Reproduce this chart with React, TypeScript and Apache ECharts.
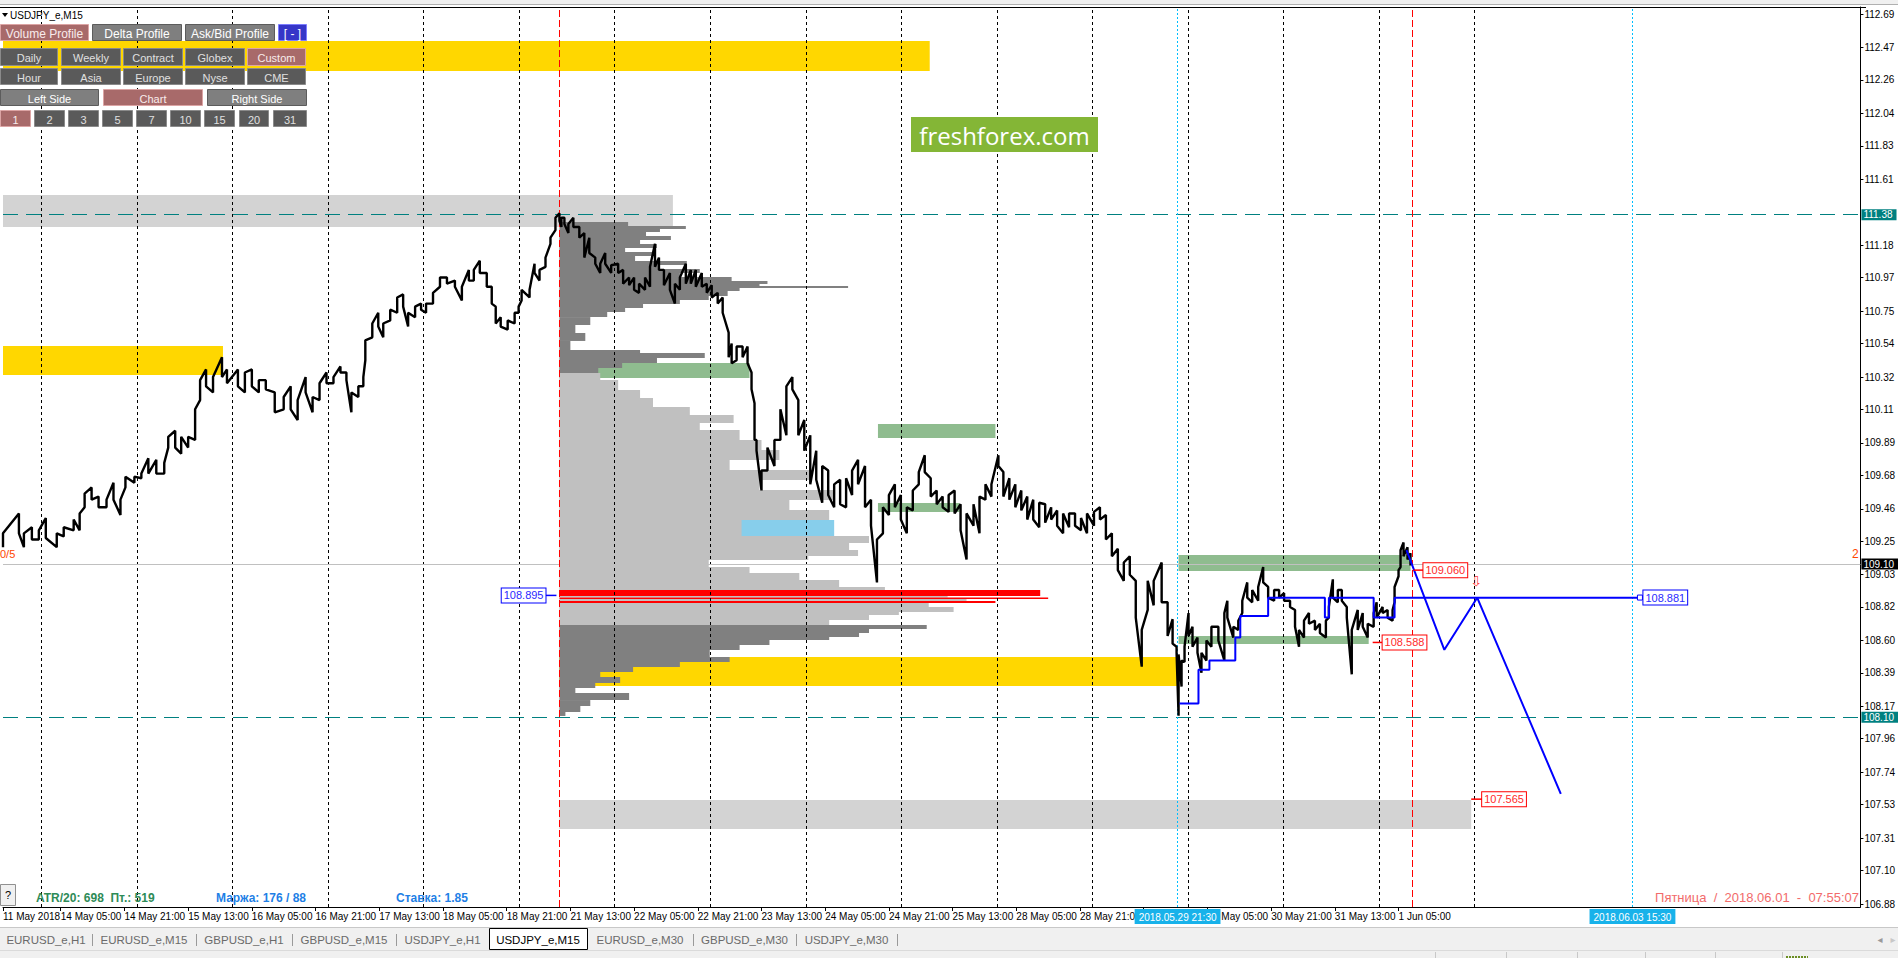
import React, { useEffect, useRef } from "react";
import * as echarts from "echarts";

const FONT = '"Liberation Sans", Arial, sans-serif';

// ---------------- price axis ----------------
const PRICE_MIN = 106.861;
const PRICE_MAX = 112.736;
const Y_TICKS = [112.69, 112.47, 112.26, 112.04, 111.83, 111.61, 111.18, 110.97, 110.75, 110.54, 110.32, 110.11, 109.89, 109.68, 109.46, 109.25, 109.03, 108.82, 108.6, 108.39, 108.17, 107.96, 107.74, 107.53, 107.31, 107.1, 106.88];

// ---------------- time axis (M15 bar index) ----------------
const BAR_MIN = 0;
const BAR_MAX = 1866;
const X_LABEL_POS = [0, 58, 122, 186, 250, 314, 378, 442, 506, 570, 634, 698, 762, 826, 890, 954, 1018, 1082, 1146, 1210, 1274, 1338, 1402];
const X_LABEL_TEXT = ["11 May 2018", "14 May 05:00", "14 May 21:00", "15 May 13:00", "16 May 05:00", "16 May 21:00", "17 May 13:00", "18 May 05:00", "18 May 21:00", "21 May 13:00", "22 May 05:00", "22 May 21:00", "23 May 13:00", "24 May 05:00", "24 May 21:00", "25 May 13:00", "28 May 05:00", "28 May 21:00", "29 May 13:00", "30 May 05:00", "30 May 21:00", "31 May 13:00", "1 Jun 05:00"];
const DAY_SEPARATORS = [38.5, 134.5, 230.5, 326.5, 422.5, 518.5, 614.5, 710.5, 806.5, 902.5, 998.5, 1094.5, 1190.5, 1286.5, 1382.5, 1478.5];
const RANGE_MARKERS = [559, 1416];
const TIME_MARKERS = [1180, 1637];
const TIME_MARKER_TEXT = ["2018.05.29 21:30", "2018.06.03 15:30"];

// ---------------- price bars (x, high, low) ----------------
const BAR_X = [
  0, 16, 21, 29, 36, 43, 54, 61, 71, 77, 82, 89, 96, 104, 111, 118, 123, 132, 139, 146, 154, 162, 166, 173, 179, 186, 193, 198, 204, 211, 220, 225, 236, 243, 250, 257, 264, 273, 282, 289, 296, 304, 311, 318, 325, 332, 339, 345, 350, 357, 362, 364, 371, 377, 382, 389, 396, 402, 407, 414, 420, 425, 432, 439, 446, 454, 461, 468, 473, 479, 486, 491, 495, 500, 507, 514, 518, 521, 529, 534, 539, 545, 550, 555, 559,
  561, 564, 568, 573, 579, 584, 589, 595, 600, 605, 611, 618, 623, 629, 634, 639, 645, 650, 655, 659, 664, 670, 675, 680, 686, 691, 696, 702, 707, 712, 718, 723, 729, 732, 737, 743, 748, 752, 755, 757,
  762, 768, 775, 781, 787, 793, 799, 805, 811, 817, 823, 829, 835, 841, 847, 853, 859, 866, 872, 878, 884, 890, 896, 902, 908, 914, 920, 926, 932, 938, 944, 950, 956, 962, 968, 975, 981, 987, 993, 1000, 1005, 1011, 1017, 1023, 1029, 1035, 1041, 1047, 1053, 1059, 1065, 1071, 1077, 1083, 1089, 1096, 1102, 1108, 1114, 1120, 1126, 1132, 1138, 1144, 1150,
  1156, 1164, 1170, 1175, 1179, 1181, 1184, 1187, 1191, 1195, 1200, 1204, 1209, 1214, 1221, 1227, 1230, 1236, 1241, 1245, 1250, 1255, 1261, 1266, 1271, 1277, 1282, 1287, 1293, 1298, 1302, 1307, 1312, 1318, 1323, 1329, 1332, 1336, 1341, 1345, 1350, 1355, 1361, 1366, 1371, 1377, 1380, 1386, 1391, 1396, 1398, 1402, 1404, 1407, 1411, 1414,
];
const BAR_HIGH = [
  109.30, 109.43, 109.30, 109.34, 109.32, 109.40, 109.30, 109.34, 109.39, 109.43, 109.56, 109.60, 109.54, 109.52, 109.63, 109.52, 109.67, 109.67, 109.69, 109.79, 109.78, 109.76, 109.93, 109.97, 109.93, 109.93, 110.11, 110.30, 110.37, 110.32, 110.45, 110.37, 110.37, 110.35, 110.37, 110.30, 110.30, 110.22, 110.19, 110.26, 110.17, 110.32, 110.19, 110.28, 110.35, 110.32, 110.39, 110.35, 110.22, 110.26, 110.32, 110.56, 110.67, 110.74, 110.67, 110.76, 110.84, 110.86, 110.74, 110.78, 110.80, 110.80, 110.87, 110.97, 110.97, 110.95, 110.91, 111.02, 111.02, 111.08, 111.00, 110.91, 110.78, 110.71, 110.69, 110.74, 110.78, 110.89, 110.89, 111.06, 111.02, 111.10, 111.23, 111.36, 111.39,
  111.36, 111.36, 111.32, 111.36, 111.30, 111.26, 111.23, 111.10, 111.06, 111.13, 111.05, 111.06, 111.02, 110.97, 110.97, 110.93, 110.97, 111.04, 111.19, 111.10, 111.02, 111.00, 110.93, 110.97, 111.06, 111.02, 111.02, 111.00, 110.93, 110.92, 110.87, 110.84, 110.61, 110.54, 110.52, 110.52, 110.52, 110.35, 110.15, 109.91,
  109.71, 109.86, 109.91, 110.11, 110.26, 110.32, 110.17, 110.04, 109.94, 109.84, 109.74, 109.71, 109.62, 109.65, 109.66, 109.71, 109.78, 109.74, 109.52, 109.26, 109.47, 109.55, 109.62, 109.55, 109.47, 109.58, 109.70, 109.81, 109.66, 109.58, 109.54, 109.55, 109.58, 109.49, 109.43, 109.49, 109.54, 109.62, 109.62, 109.81, 109.70, 109.66, 109.62, 109.58, 109.54, 109.52, 109.50, 109.49, 109.47, 109.45, 109.43, 109.43, 109.43, 109.40, 109.43, 109.44, 109.47, 109.42, 109.30, 109.20, 109.11, 109.15, 108.99, 108.67, 108.99,
  108.99, 109.11, 108.85, 108.74, 108.56, 108.51, 108.47, 108.56, 108.78, 108.69, 108.62, 108.52, 108.60, 108.69, 108.69, 108.78, 108.86, 108.69, 108.73, 108.86, 108.98, 108.93, 108.95, 109.08, 108.95, 108.93, 108.93, 108.91, 108.86, 108.80, 108.67, 108.73, 108.78, 108.73, 108.71, 108.73, 108.82, 109.00, 108.93, 108.93, 108.82, 108.67, 108.80, 108.78, 108.71, 108.78, 108.85, 108.82, 108.80, 108.80, 108.95, 109.06, 109.19, 109.24, 109.21, 109.17,
];
const BAR_LOW = [
  109.21, 109.30, 109.21, 109.26, 109.26, 109.27, 109.21, 109.28, 109.32, 109.32, 109.47, 109.52, 109.47, 109.47, 109.52, 109.42, 109.60, 109.63, 109.66, 109.69, 109.69, 109.69, 109.86, 109.86, 109.82, 109.86, 109.91, 110.17, 110.26, 110.22, 110.32, 110.28, 110.26, 110.22, 110.26, 110.22, 110.24, 110.09, 110.11, 110.11, 110.04, 110.22, 110.09, 110.17, 110.28, 110.28, 110.35, 110.30, 110.09, 110.19, 110.26, 110.43, 110.58, 110.65, 110.58, 110.69, 110.74, 110.78, 110.65, 110.71, 110.76, 110.74, 110.80, 110.91, 110.93, 110.91, 110.82, 110.95, 110.95, 111.00, 110.91, 110.80, 110.67, 110.65, 110.63, 110.67, 110.74, 110.82, 110.84, 111.00, 110.95, 111.04, 111.19, 111.28, 111.34,
  111.30, 111.32, 111.26, 111.30, 111.23, 111.10, 111.13, 111.06, 111.00, 111.06, 111.00, 111.00, 110.93, 110.92, 110.89, 110.87, 110.89, 110.91, 111.04, 111.02, 110.92, 110.89, 110.80, 110.89, 110.93, 110.93, 110.91, 110.91, 110.87, 110.84, 110.80, 110.74, 110.45, 110.41, 110.43, 110.45, 110.41, 110.24, 109.91, 109.84,
  109.58, 109.71, 109.74, 109.91, 109.94, 110.24, 109.94, 109.84, 109.62, 109.65, 109.50, 109.55, 109.47, 109.49, 109.47, 109.55, 109.62, 109.47, 109.35, 108.98, 109.30, 109.42, 109.47, 109.39, 109.30, 109.45, 109.62, 109.70, 109.54, 109.49, 109.47, 109.44, 109.43, 109.32, 109.13, 109.35, 109.30, 109.52, 109.54, 109.74, 109.54, 109.52, 109.47, 109.45, 109.39, 109.39, 109.34, 109.37, 109.39, 109.35, 109.30, 109.34, 109.35, 109.32, 109.30, 109.35, 109.39, 109.26, 109.15, 109.06, 108.99, 109.03, 108.75, 108.43, 108.80,
  108.83, 108.85, 108.63, 108.58, 108.52, 108.11, 108.30, 108.46, 108.63, 108.56, 108.52, 108.39, 108.47, 108.56, 108.60, 108.47, 108.75, 108.62, 108.67, 108.78, 108.88, 108.85, 108.86, 108.98, 108.88, 108.86, 108.88, 108.86, 108.82, 108.69, 108.56, 108.62, 108.71, 108.67, 108.65, 108.62, 108.75, 108.88, 108.85, 108.86, 108.75, 108.38, 108.67, 108.69, 108.62, 108.69, 108.75, 108.78, 108.75, 108.73, 108.85, 109.02, 109.08, 109.15, 109.13, 109.09,
];

// ---------------- volume profile ----------------
const PROFILE_START = 559;
const PROFILE_EDGES = [
  111.332, 111.306, 111.287, 111.267, 111.241, 111.215, 111.189, 111.163, 111.137, 111.110,
  111.078, 111.052, 111.026, 111.000, 110.973, 110.947, 110.928, 110.915, 110.902, 110.882,
  110.849, 110.823, 110.797, 110.771, 110.745, 110.712, 110.660, 110.608, 110.556, 110.497,
  110.477, 110.445, 110.412, 110.379, 110.347, 110.301, 110.236, 110.184, 110.125, 110.073,
  110.020, 109.975, 109.909, 109.844, 109.779, 109.714, 109.648, 109.583, 109.518, 109.452,
  109.387, 109.335, 109.283, 109.237, 109.191, 109.152, 109.126, 109.080, 109.041, 108.995,
  108.950, 108.930, 108.891, 108.881, 108.871, 108.858, 108.845, 108.819, 108.787, 108.767,
  108.734, 108.702, 108.676, 108.650, 108.623, 108.604, 108.571, 108.539, 108.493, 108.460,
  108.428, 108.395, 108.363, 108.323, 108.291, 108.258, 108.212, 108.173, 108.134, 108.108,
];
const PROFILE_VOL = [
  69, 127, 101, 87, 112, 81, 98, 66, 96, 76,
  128, 101, 141, 121, 173, 209, 201, 290, 181, 169,
  150, 121, 84, 66, 48, 31, 16, 26, 11, 81,
  146, 98, 63, 39, 41, 59, 81, 94, 131, 175,
  141, 181, 203, 221, 171, 251, 201, 276, 231, 271,
  201, 241, 311, 291, 300, 250, 150, 191, 241, 281,
  327, 483, 390, 491, 409, 438, 371, 396, 341, 311,
  271, 369, 311, 301, 271, 211, 181, 151, 171, 121,
  74, 41, 61, 36, 16, 70, 31, 21, 6,
];
// 0 = outside value area, 1 = value area, 2 = POC
const PROFILE_KIND = [
  0, 0, 0, 0, 0, 0, 0, 0, 0, 0,
  0, 0, 0, 0, 0, 0, 0, 0, 0, 0,
  0, 0, 0, 0, 0, 0, 0, 0, 0, 0,
  0, 0, 0, 0, 1, 1, 1, 1, 1, 1,
  1, 1, 1, 1, 1, 1, 1, 1, 1, 1,
  1, 1, 1, 1, 1, 1, 1, 1, 1, 1,
  1, 2, 1, 2, 1, 2, 1, 1, 1, 1,
  1, 0, 0, 0, 0, 0, 0, 0, 0, 0,
  0, 0, 0, 0, 0, 0, 0, 0, 0,
];

// ---------------- zones ----------------
const ZONE_X0 = [0, 0, 0, 559, 879, 879, 742, 559, 1181, 1181, 559];
const ZONE_X1 = [931, 673, 221, 750, 997, 961, 835, 1180, 1414, 1372, 1475];
const ZONE_TOP = [112.514, 111.509, 110.523, 110.412, 110.014, 109.498, 109.387, 108.493, 109.159, 108.630, 107.559];
const ZONE_BOTTOM = [112.318, 111.300, 110.334, 110.314, 109.922, 109.439, 109.282, 108.304, 109.054, 108.578, 107.370];
const ZONE_KIND = ["gold", "gray", "gold", "green", "green", "green", "blue", "gold", "green", "green", "gray"];

// ---------------- developing level (step) and forecast ----------------
const STEP_X = [1182, 1201, 1212, 1238, 1243, 1271, 1328, 1332, 1377, 1398, 1645];
const STEP_P = [108.19, 108.41, 108.47, 108.62, 108.76, 108.88, 108.75, 108.88, 108.75, 108.88, 108.88];
const FORECAST_X = [1410, 1448, 1481, 1565];
const FORECAST_P = [109.19, 108.54, 108.88, 107.6];

// ---------------- levels ----------------
const TEAL_LEVELS = [111.38, 108.10];
const BID_PRICE = 109.10;

// ---------------- price notes ----------------
const NOTE_TEXT = ["108.895", "108.881", "109.060", "108.588", "107.565"];
const NOTE_PRICE = [108.895, 108.881, 109.06, 108.588, 107.565];
const NOTE_FROM = [556, 1643, 1417, 1376, 1475];
const NOTE_AT = [545, 1648, 1427, 1386, 1486];
const NOTE_SIDE = ["left", "right", "right", "right", "right"];
const NOTE_KIND = ["blue", "blue", "red", "red", "red"];
const ARROW_X = [1480];
const ARROW_P = [108.99];

// ---------------- UI texts ----------------
const TABS = ["EURUSD_e,H1", "EURUSD_e,M15", "GBPUSD_e,H1", "GBPUSD_e,M15", "USDJPY_e,H1", "USDJPY_e,M15", "EURUSD_e,M30", "GBPUSD_e,M30", "USDJPY_e,M30"];
const TAB_EDGES = [0, 92, 196, 292, 396, 489, 587, 693, 796, 897];
const ACTIVE_TAB = 5;

const ZONE_COLORS: Record<string, string> = { gold: "#ffd700", gray: "#d3d3d3", green: "#8fbc8f", blue: "#87ceeb" };
const PROFILE_COLORS = ["#808080", "#c0c0c0", "#ff0000"];

function button(x0: number, x1: number, y0: number, y1: number, label: string, kind: string, fs = 11) {
  const pal: Record<string, any> = {
    red: { fill: "#a86a6a", stroke: "#dca4a4", text: "#f8ecec" },
    mid: { fill: "#7f7f7f", stroke: "#5c5c5c", text: "#ffffff" },
    dark: { fill: "#5a5a5a", stroke: "#8a8a8a", text: "#e0e0e0" },
    blue: { fill: "#3636c8", stroke: "#7c7cff", text: "#ffffff" },
  };
  const p = pal[kind];
  return [
    { type: "rect", z: 100, shape: { x: x0 + 0.5, y: y0 + 0.5, width: x1 - x0 - 1, height: y1 - y0 - 1 }, style: { fill: p.fill, stroke: p.stroke, lineWidth: 1 } },
    { type: "text", z: 101, style: { text: label, x: (x0 + x1) / 2, y: (y0 + y1) / 2 + 1, align: "center", verticalAlign: "middle", textAlign: "center", textVerticalAlign: "middle", fill: p.text, font: `${fs}px ${FONT}` } },
  ];
}

function txt(text: string, x: number, y: number, fill: string, font: string, align = "left", z = 102) {
  return { type: "text", z, style: { text, x, y, fill, font, align, textAlign: align, verticalAlign: "middle", textVerticalAlign: "middle" } };
}

function buildGraphic() {
  const g: any[] = [];
  g.push({ type: "rect", z: 90, shape: { x: 0, y: 0, width: 1898, height: 5 }, style: { fill: "#f0f0f0" } });
  g.push({ type: "line", z: 91, shape: { x1: 0, y1: 4.5, x2: 1898, y2: 4.5 }, style: { stroke: "#b0b0b0", lineWidth: 1 } });
  g.push({ type: "line", z: 91, shape: { x1: 0, y1: 7.5, x2: 1866, y2: 7.5 }, style: { stroke: "#000", lineWidth: 1 } });
  g.push({ type: "polygon", z: 102, shape: { points: [[2, 13], [8, 13], [5, 17]] }, style: { fill: "#000" } });
  g.push(txt("USDJPY_e,M15", 10, 15.5, "#000", `10px ${FONT}`));
  g.push(...button(0, 89, 24, 41, "Volume Profile", "red", 12));
  g.push(...button(92, 182, 24, 41, "Delta Profile", "mid", 12));
  g.push(...button(185, 275, 24, 41, "Ask/Bid Profile", "mid", 12));
  g.push(...button(278, 307, 24, 41, "[ - ]", "blue", 12));
  const colsA = [[0, 58], [61, 121], [123, 183], [185, 245], [247, 306]];
  ["Daily", "Weekly", "Contract", "Globex", "Custom"].forEach((t, i) => g.push(...button(colsA[i][0], colsA[i][1], 48, 66, t, i === 4 ? "red" : "dark")));
  ["Hour", "Asia", "Europe", "Nyse", "CME"].forEach((t, i) => g.push(...button(colsA[i][0], colsA[i][1], 68, 85, t, "dark")));
  g.push(...button(0, 99, 89, 106, "Left Side", "mid"));
  g.push(...button(103, 203, 89, 106, "Chart", "red"));
  g.push(...button(207, 307, 89, 106, "Right Side", "mid"));
  const colsB = [[0, 31], [34, 65], [68, 99], [102, 133], [136, 167], [170, 201], [204, 235], [239, 269], [273, 307]];
  ["1", "2", "3", "5", "7", "10", "15", "20", "31"].forEach((t, i) => g.push(...button(colsB[i][0], colsB[i][1], 110, 127, t, i === 0 ? "red" : "dark")));
  g.push({ type: "rect", z: 100, shape: { x: 911, y: 117, width: 187, height: 35 }, style: { fill: "#84b636" } });
  g.push({ type: "text", z: 101, style: { text: "freshforex.com", x: 1004.5, y: 135, fill: "#ffffff", font: `24px "Open Sans", ${FONT}`, align: "center", textAlign: "center", verticalAlign: "middle", textVerticalAlign: "middle" } });
  g.push(txt("0/5", 0, 554, "#ff4500", `11px ${FONT}`));
  g.push(txt("2", 1852, 554, "#ff4500", `12px ${FONT}`));
  g.push({ type: "rect", z: 100, shape: { x: 0.5, y: 884.5, width: 15, height: 21 }, style: { fill: "#f0f0f0", stroke: "#909090", lineWidth: 1 } });
  g.push(txt("?", 8, 895, "#000", `11px ${FONT}`, "center"));
  g.push(txt("ATR/20: 698  Пт.: 519", 36, 898, "#2e8b57", `bold 12px ${FONT}`));
  g.push(txt("Маржа: 176 / 88", 216, 898, "#1e7fe6", `bold 12px ${FONT}`));
  g.push(txt("Ставка: 1.85", 396, 898, "#1e7fe6", `bold 12px ${FONT}`));
  g.push(txt("Пятница  /  2018.06.01  -  07:55:07", 1859, 897, "#f26b6b", `13px ${FONT}`, "right"));
  g.push({ type: "line", z: 90, shape: { x1: 0, y1: 927.5, x2: 1898, y2: 927.5 }, style: { stroke: "#c8c8c8", lineWidth: 1 } });
  g.push({ type: "rect", z: 90, shape: { x: 0, y: 928, width: 1898, height: 30 }, style: { fill: "#f0f0f0" } });
  g.push({ type: "line", z: 91, shape: { x1: 0, y1: 950.5, x2: 1898, y2: 950.5 }, style: { stroke: "#dadada", lineWidth: 1 } });
  TAB_EDGES.forEach((x, i) => {
    if (i === 0 || i === ACTIVE_TAB || i === ACTIVE_TAB + 1) return;
    g.push({ type: "line", z: 92, shape: { x1: x + 0.5, y1: 934, x2: x + 0.5, y2: 946 }, style: { stroke: "#9a9a9a", lineWidth: 1 } });
  });
  g.push({ type: "rect", z: 92, shape: { x: TAB_EDGES[ACTIVE_TAB] + 0.5, y: 928.5, width: TAB_EDGES[ACTIVE_TAB + 1] - TAB_EDGES[ACTIVE_TAB], height: 21 }, style: { fill: "#ffffff", stroke: "#000", lineWidth: 1 } });
  TABS.forEach((t, i) => {
    const cx = (TAB_EDGES[i] + TAB_EDGES[i + 1]) / 2;
    g.push(txt(t, cx, 940, i === ACTIVE_TAB ? "#000" : "#6a6a6a", `11.5px ${FONT}`, "center", 93));
  });
  g.push(txt("◂", 1880, 939, "#9a9a9a", `10px "DejaVu Sans"`, "center", 93));
  g.push(txt("▸", 1893, 939, "#c8c8c8", `10px "DejaVu Sans"`, "center", 93));
  [1435, 1506, 1577, 1645, 1715, 1782].forEach((x) => g.push({ type: "line", z: 92, shape: { x1: x + 0.5, y1: 952, x2: x + 0.5, y2: 958 }, style: { stroke: "#c8c8c8", lineWidth: 1 } }));
  g.push({ type: "line", z: 92, shape: { x1: 1786, y1: 957, x2: 1808, y2: 957 }, style: { stroke: "#6b8e23", lineWidth: 2, lineDash: [2, 1] } });
  return g;
}

function buildOption() {
  // jagged path through each bar's high and low, ordered by the direction of travel
  const pricePath: number[][] = [];
  BAR_X.forEach((x, i) => {
    const mid = (BAR_HIGH[i] + BAR_LOW[i]) / 2;
    const j = i < BAR_X.length - 1 ? i + 1 : i - 1;
    const nextMid = (BAR_HIGH[j] + BAR_LOW[j]) / 2;
    const up = i < BAR_X.length - 1 ? nextMid > mid : nextMid < mid;
    if (up) pricePath.push([x, BAR_LOW[i]], [x, BAR_HIGH[i]]);
    else pricePath.push([x, BAR_HIGH[i]], [x, BAR_LOW[i]]);
  });
  const zoneRender = (top: boolean) => (params: any, api: any) => {
    const i = params.dataIndex;
    const isTop = ZONE_KIND[i] === "blue";
    if (isTop !== top) return null;
    const a = api.coord([ZONE_X0[i], ZONE_TOP[i]]);
    const b = api.coord([ZONE_X1[i], ZONE_BOTTOM[i]]);
    return { type: "rect", shape: { x: a[0], y: a[1], width: b[0] - a[0], height: b[1] - a[1] }, style: { fill: ZONE_COLORS[ZONE_KIND[i]] } };
  };
  const zoneData = ZONE_X0.map((x, i) => [x, ZONE_TOP[i]]);

  return {
    animation: false,
    backgroundColor: "#ffffff",
    textStyle: { fontFamily: FONT },
    grid: { left: 0, top: 7, width: BAR_MAX - BAR_MIN, height: 900, containLabel: false },
    xAxis: {
      type: "value",
      min: BAR_MIN,
      max: BAR_MAX,
      splitLine: { show: false },
      axisLine: { show: true, onZero: false, lineStyle: { color: "#000", width: 1 } },
      axisTick: { show: true, customValues: X_LABEL_POS, length: 4, lineStyle: { color: "#000" } },
      axisLabel: {
        show: true,
        customValues: X_LABEL_POS,
        formatter: (v: number) => X_LABEL_TEXT[X_LABEL_POS.indexOf(v)] ?? "",
        align: "left",
        margin: 4,
        fontSize: 10,
        color: "#000",
        fontFamily: FONT,
      },
    },
    yAxis: {
      type: "value",
      position: "right",
      min: PRICE_MIN,
      max: PRICE_MAX,
      splitLine: { show: false },
      axisLine: { show: true, onZero: false, lineStyle: { color: "#000", width: 1 } },
      axisTick: { show: true, customValues: Y_TICKS, length: 3, lineStyle: { color: "#000" } },
      axisLabel: { show: true, customValues: Y_TICKS, formatter: (v: number) => v.toFixed(2), margin: 4, fontSize: 10, color: "#000", fontFamily: FONT },
    },
    series: [
      { type: "custom", z: 1, silent: true, renderItem: zoneRender(false), data: zoneData },
      {
        type: "line", z: 2, silent: true, symbol: "none", lineStyle: { opacity: 0 }, data: [[BAR_MIN, PRICE_MIN]],
        markLine: {
          silent: true, symbol: ["none", "none"], animation: false,
          lineStyle: { color: "#000", type: [3, 3], width: 1 },
          label: { show: false },
          data: DAY_SEPARATORS.map((x) => ({ xAxis: x })),
        },
      },
      {
        type: "custom", z: 3, silent: true,
        renderItem: (params: any, api: any) => {
          const i = params.dataIndex;
          const a = api.coord([PROFILE_START, PROFILE_EDGES[i]]);
          const b = api.coord([PROFILE_START + PROFILE_VOL[i], PROFILE_EDGES[i + 1]]);
          return { type: "rect", shape: { x: a[0], y: a[1], width: b[0] - a[0], height: Math.max(1, b[1] - a[1]) }, style: { fill: PROFILE_COLORS[PROFILE_KIND[i]] } };
        },
        data: PROFILE_VOL.map((v, i) => [PROFILE_START + v, PROFILE_EDGES[i]]),
      },
      { type: "custom", z: 3.5, silent: true, renderItem: zoneRender(true), data: zoneData },
      {
        type: "line", z: 4, silent: true, symbol: "none", lineStyle: { opacity: 0 }, data: [[BAR_MIN, PRICE_MIN]],
        markLine: {
          silent: true, symbol: ["none", "none"], animation: false,
          data: [
            ...TEAL_LEVELS.map((p) => ({
              yAxis: p,
              lineStyle: { color: "#008080", type: [15, 8], width: 1.2 },
              label: { show: true, position: "end", formatter: p.toFixed(2), color: "#fff", backgroundColor: "#008080", padding: [1, 4, 0, 2], fontSize: 10, fontFamily: FONT, distance: 1 },
            })),
            {
              yAxis: BID_PRICE,
              lineStyle: { color: "#c0c0c0", type: "solid", width: 1 },
              label: { show: true, position: "end", formatter: BID_PRICE.toFixed(2), color: "#fff", backgroundColor: "#000", padding: [1, 4, 0, 2], fontSize: 10, fontFamily: FONT, distance: 1 },
            },
            ...RANGE_MARKERS.map((x) => ({ xAxis: x, lineStyle: { color: "#ff0000", type: [7, 3], width: 1 }, label: { show: false } })),
            ...TIME_MARKERS.map((x, i) => ({
              xAxis: x,
              lineStyle: { color: "#00bfff", type: [2, 2], width: 1 },
              label: { show: true, position: "start", formatter: TIME_MARKER_TEXT[i], color: "#fff", backgroundColor: "#18b2ea", padding: [3, 4, 2, 4], fontSize: 10, fontFamily: FONT, distance: 2 },
            })),
          ],
        },
      },
      {
        type: "line", z: 5, silent: true, symbol: "none", data: pricePath,
        lineStyle: { color: "#000", width: 2.4, join: "bevel" },
      },
      {
        type: "line", z: 6, silent: true, symbol: "none", step: "end",
        data: STEP_X.map((x, i) => [x, STEP_P[i]]),
        lineStyle: { color: "#0000ff", width: 2 },
      },
      {
        type: "line", z: 6, silent: true, symbol: "none",
        data: FORECAST_X.map((x, i) => [x, FORECAST_P[i]]),
        lineStyle: { color: "#0000ff", width: 2 },
      },
      {
        type: "custom", z: 7, silent: true,
        renderItem: (params: any, api: any) => {
          const i = params.dataIndex;
          const a = api.coord([NOTE_FROM[i], NOTE_PRICE[i]]);
          const b = api.coord([NOTE_AT[i], NOTE_PRICE[i]]);
          const col = NOTE_KIND[i] === "red" ? "#ff0000" : "#0000ff";
          const tcol = NOTE_KIND[i] === "red" ? "#ff2a2a" : "#2a2aff";
          const right = NOTE_SIDE[i] === "right";
          const children: any[] = [
            { type: "line", shape: { x1: a[0], y1: a[1], x2: b[0], y2: b[1] }, style: { stroke: col, lineWidth: 1.5 } },
            {
              type: "text",
              style: {
                text: NOTE_TEXT[i], x: b[0], y: b[1], align: right ? "left" : "right", textAlign: right ? "left" : "right",
                verticalAlign: "middle", textVerticalAlign: "middle", fill: tcol, font: `11px ${FONT}`,
                backgroundColor: "#ffffff", borderColor: col, borderWidth: 1, padding: [2, 2, 1, 2],
              },
            },
          ];
          if (NOTE_FROM[i] > 1600) {
            children.push({ type: "rect", shape: { x: a[0] - 1, y: a[1] - 2.5, width: 5, height: 5 }, style: { fill: "#fff", stroke: col, lineWidth: 1 } });
          }
          return { type: "group", children };
        },
        data: NOTE_AT.map((x, i) => [x, NOTE_PRICE[i]]),
      },
      {
        type: "custom", z: 7, silent: true,
        renderItem: (params: any, api: any) => {
          const i = params.dataIndex;
          const a = api.coord([ARROW_X[i], ARROW_P[i]]);
          return { type: "text", style: { text: "⇩", x: a[0], y: a[1], align: "center", textAlign: "center", verticalAlign: "middle", textVerticalAlign: "middle", fill: "#ff3b3b", font: `14px "DejaVu Sans"` } };
        },
        data: ARROW_X.map((x, i) => [x, ARROW_P[i]]),
      },
    ],
    graphic: buildGraphic(),
  };
}

export default function App() {
  const ref = useRef<HTMLDivElement>(null);
  useEffect(() => {
    document.body.style.margin = "0";
    document.body.style.background = "#ffffff";
    if (!ref.current) return;
    const chart = echarts.init(ref.current, null, { renderer: "svg" });
    chart.setOption(buildOption() as any);
    return () => chart.dispose();
  }, []);
  return <div ref={ref} style={{ width: 1898, height: 958, position: "absolute", left: 0, top: 0, overflow: "hidden" }} />;
}
